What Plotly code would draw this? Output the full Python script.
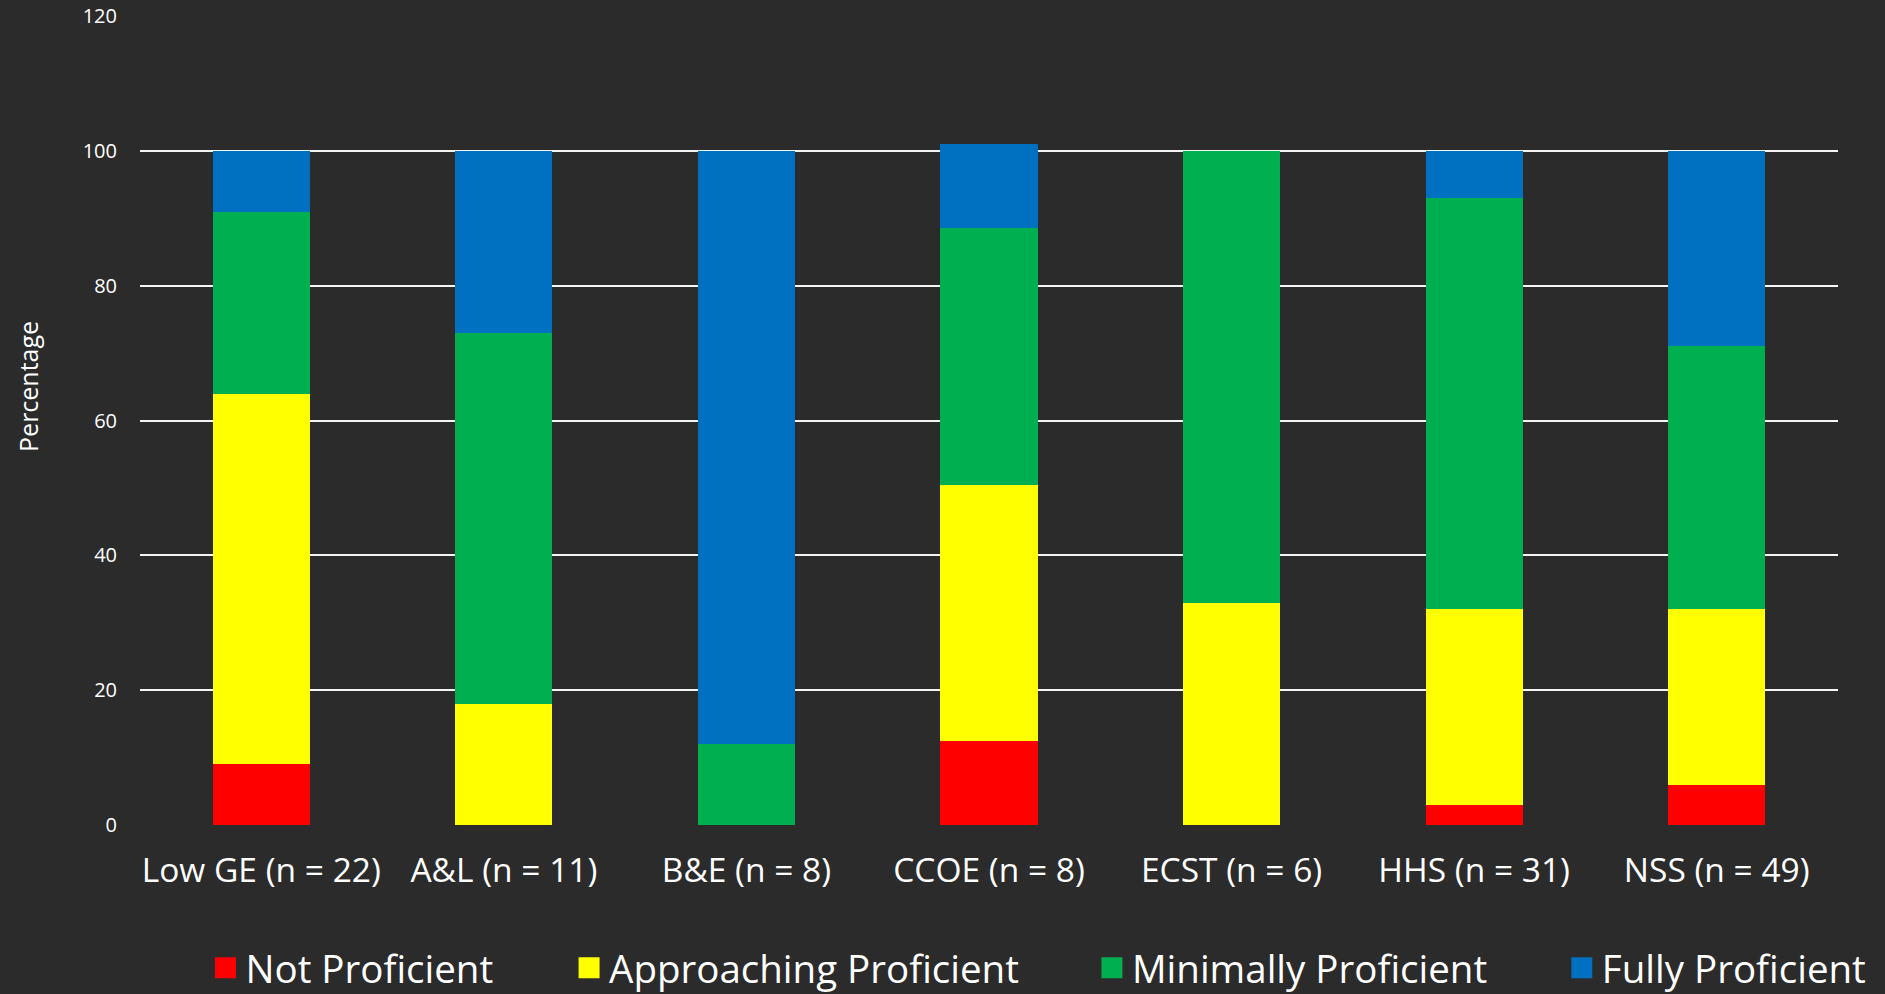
import plotly.graph_objects as go

categories = ["Low GE (n = 22)", "A&L (n = 11)", "B&E (n = 8)", "CCOE (n = 8)",
              "ECST (n = 6)", "HHS (n = 31)", "NSS (n = 49)"]
not_proficient = [9, 0, 0, 12.5, 0, 3, 6]
approaching_proficient = [55, 18, 0, 38, 33, 29, 26]
minimally_proficient = [27, 55, 12, 38, 67, 61, 39]
fully_proficient = [9, 27, 88, 12.5, 0, 7, 29]

series_names = ["Not Proficient", "Approaching Proficient", "Minimally Proficient", "Fully Proficient"]
series_values = [not_proficient, approaching_proficient, minimally_proficient, fully_proficient]
series_colors = ["#FF0000", "#FFFF00", "#00B050", "#0070C0"]
y_tick_values = [0, 20, 40, 60, 80, 100, 120]

BG = "#2b2b2b"
FONT = "Open Sans"

W, H = 1885, 994
L, R, T, B = 139.5, 47, 15.5, 169.3
plot_w = W - L - R
plot_h = H - T - B

def px_x(p):
    return (p - L) / plot_w

def px_y(p):
    return (H - B - p) / plot_h

fig = go.Figure()
for name, vals, col in zip(series_names, series_values, series_colors):
    fig.add_trace(go.Bar(x=categories, y=vals, name=name, marker=dict(color=col, line=dict(width=0)),
                         showlegend=False))

legend_ids = ["legend", "legend2", "legend3", "legend4"]
legend_text_px = [247, 610.7, 1133.7, 1603.7]
for name, col, lid in zip(series_names, series_colors, legend_ids):
    fig.add_trace(go.Scatter(x=[categories[0]], y=[None], mode="markers", name=name,
                             marker=dict(symbol="square", size=16, color=col, line=dict(width=5, color=col)),
                             legend=lid, showlegend=True))

layout_legends = {}
for lid, tx in zip(legend_ids, legend_text_px):
    layout_legends[lid] = dict(
        x=px_x(tx - 42), xanchor="left", y=px_y(968), yanchor="middle",
        orientation="h", bgcolor="rgba(0,0,0,0)",
        font=dict(family=FONT, size=38.5, color="#ffffff"),
    )

fig.update_layout(
    width=W, height=H,
    margin=dict(l=L, r=R, t=T, b=B, pad=0, autoexpand=False),
    paper_bgcolor=BG, plot_bgcolor=BG,
    barmode="stack", bargap=0.6,
    font=dict(family=FONT, color="#ffffff"),
    **layout_legends,
)
fig.update_xaxes(
    type="category", showgrid=False, zeroline=False, showline=False, automargin=False,
    tickfont=dict(family=FONT, size=33.5, color="#ffffff"),
    ticklabelstandoff=22,
)
fig.update_yaxes(
    range=[0, 120], tickvals=y_tick_values, showgrid=True, gridcolor="#f5f5f5", gridwidth=2,
    zeroline=False, showline=False, automargin=False,
    tickfont=dict(family=FONT, size=20, color="#ffffff"),
    ticklabelstandoff=22,
)
fig.add_annotation(text="Percentage", textangle=-90, xref="paper", yref="paper",
                   x=px_x(28), y=px_y(386), xanchor="center", yanchor="middle", showarrow=False,
                   font=dict(family=FONT, size=25, color="#ffffff"))

fig.write_html("out.html")
